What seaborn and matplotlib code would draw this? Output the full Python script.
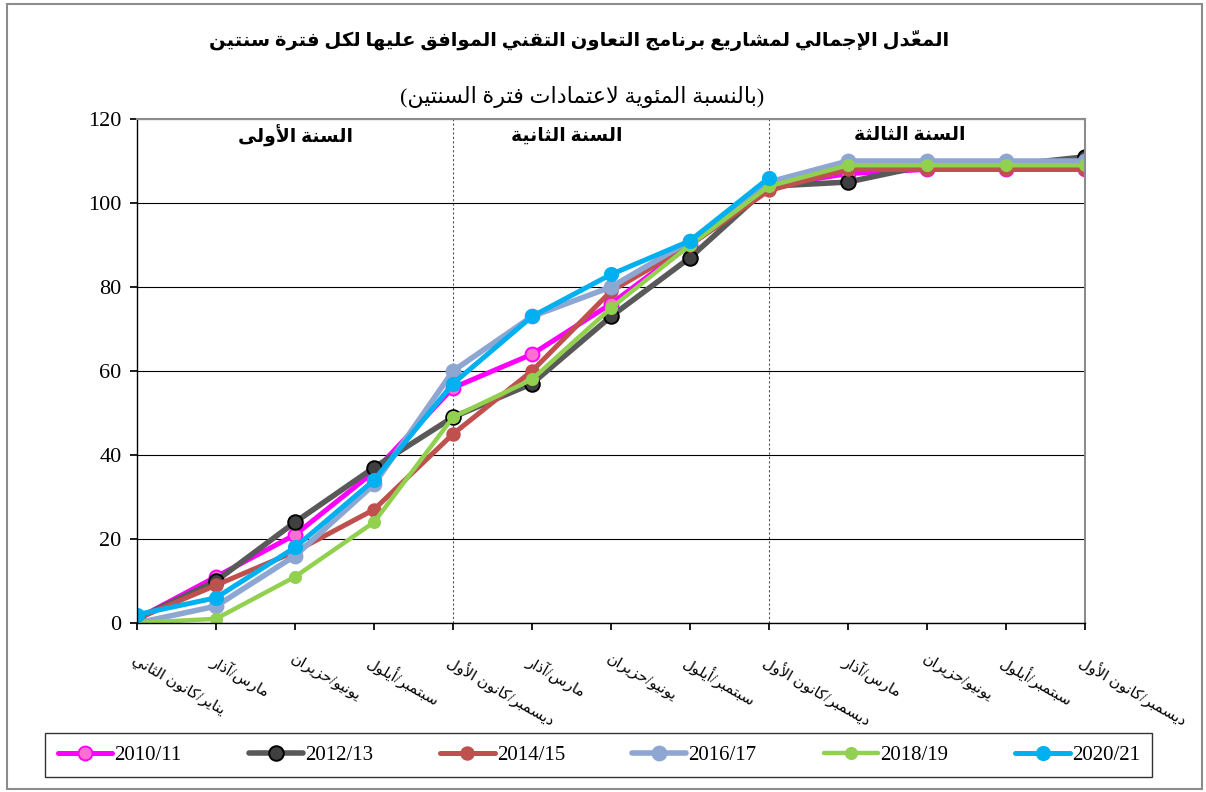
################################# import ###################################

import pandas as pd
import seaborn as sns
import matplotlib.pyplot as plt
from matplotlib.patches import Rectangle

################################# data #####################################

months = ["يناير/كانون الثاني", "مارس/آذار", "يونيو/حزيران", "سبتمبر/أيلول",
          "ديسمبر/كانون الأول", "مارس/آذار", "يونيو/حزيران", "سبتمبر/أيلول",
          "ديسمبر/كانون الأول", "مارس/آذار", "يونيو/حزيران", "سبتمبر/أيلول",
          "ديسمبر/كانون الأول"]
series_names = ["2010/11", "2012/13", "2014/15", "2016/17", "2018/19", "2020/21"]
v_2010_11 = [1, 11, 21, 36, 56, 64, 76, 90, 104, 107, 108, 108, 108]
v_2012_13 = [1, 10, 24, 37, 49, 57, 73, 87, 104, 105, 109, 109, 111]
v_2014_15 = [1, 9, 17, 27, 45, 60, 79, 90, 103, 108, 108, 108, 108]
v_2016_17 = [0, 4, 16, 33, 60, 73, 80, 91, 105, 110, 110, 110, 110]
v_2018_19 = [0, 1, 11, 24, 49, 58, 75, 90, 104, 109, 109, 109, 109]
v_2020_21 = [2, 6, 18, 34, 57, 73, 83, 91, 106, None, None, None, None]
year_labels = ["السنة الأولى", "السنة الثانية", "السنة الثالثة"]
title = "المعدّل الإجمالي لمشاريع برنامج التعاون التقني الموافق عليها لكل فترة سنتين"
subtitle = "(بالنسبة المئوية لاعتمادات فترة السنتين)"

################################# arabic text ##############################

# matplotlib does no shaping / bidi, so pick the contextual forms by hand
AR_LETTERS = "ءآأؤإئابةتثجحخدذرزسشصضطظعغفقكلمنهوىي"
AR_NFORMS = [1, 2, 2, 2, 2, 4, 2, 4, 2, 4, 4, 4, 4, 4, 2, 2, 2, 2,
             4, 4, 4, 4, 4, 4, 4, 4, 4, 4, 4, 4, 4, 4, 4, 2, 2, 4]
FORMS = {}
cp = 0xFE80
for ch, n in zip(AR_LETTERS, AR_NFORMS):
    FORMS[ch] = [chr(cp + k) for k in range(n)]
    cp += n
LAM_ALEF = {"آ": 0xFEF5, "أ": 0xFEF7, "إ": 0xFEF9, "ا": 0xFEFB}
MIRROR = {"(": ")", ")": "("}


def ar(text):
    clusters = []
    for ch in text:
        if 0x064B <= ord(ch) <= 0x0652 and clusters:
            clusters[-1][1] += ch
        else:
            clusters.append([ch, ""])
    out = []
    i = 0
    n = len(clusters)
    while i < n:
        ch, marks = clusters[i]
        prev = clusters[i - 1][0] if i > 0 else ""
        join_prev = ch in FORMS and len(FORMS.get(prev, [])) == 4 and len(FORMS[ch]) > 1
        if ch == "ل" and i + 1 < n and clusters[i + 1][0] in LAM_ALEF:
            out.append(chr(LAM_ALEF[clusters[i + 1][0]] + int(join_prev)) + marks + clusters[i + 1][1])
            i += 2
            continue
        nxt = clusters[i + 1][0] if i + 1 < n else ""
        join_next = ch in FORMS and len(FORMS[ch]) == 4 and nxt in FORMS and len(FORMS[nxt]) > 1
        if ch in FORMS:
            f = FORMS[ch]
            if join_prev and join_next:
                g = f[3]
            elif join_prev:
                g = f[1]
            elif join_next:
                g = f[2]
            else:
                g = f[0]
        else:
            g = MIRROR.get(ch, ch)
        out.append(g + marks)
        i += 1
    return "".join(reversed(out))


################################# plot #####################################

sns.set_theme(style="white")
plt.rcParams['font.family'] = ['Liberation Serif', 'DejaVu Sans']
plt.rcParams.update({'text.color': 'black', 'xtick.color': 'black',
                     'ytick.color': 'black', 'axes.labelcolor': 'black'})

values = [v_2010_11, v_2012_13, v_2014_15, v_2016_17, v_2018_19, v_2020_21]
df = pd.DataFrame({
    'period': [i for v in values for i in range(len(v))],
    'value': [x for v in values for x in v],
    'series': [s for s, v in zip(series_names, values) for _ in v],
}).dropna()

styles = {
    "2010/11": dict(color="#FF00FF", mfc="#FF6FD0", mec="#FF00FF", ms=10, lw=3.6),
    "2012/13": dict(color="#595959", mfc="#404040", mec="#000000", ms=10.5, lw=4),
    "2014/15": dict(color="#C0504D", mfc="#C0504D", mec="#C0504D", ms=9, lw=3.6),
    "2016/17": dict(color="#8EA6D2", mfc="#8EA6D2", mec="#8EA6D2", ms=10, lw=4),
    "2018/19": dict(color="#92D050", mfc="#92D050", mec="#92D050", ms=8, lw=3.2),
    "2020/21": dict(color="#00B0F0", mfc="#00B0F0", mec="#00B0F0", ms=9.5, lw=3.6),
}

fig, ax = plt.subplots(figsize=(12.06, 7.92), dpi=100)
fig.subplots_adjust(left=0.1136, right=0.8997, top=0.8497, bottom=0.2134)

for name in series_names:
    st = styles[name]
    sns.lineplot(data=df[df['series'] == name], x='period', y='value', ax=ax,
                 color=st['color'], linewidth=st['lw'], marker='o', markersize=st['ms'],
                 markerfacecolor=st['mfc'], markeredgecolor=st['mec'], markeredgewidth=1.4,
                 label=name, legend=False)

ax.set_xlim(0, 12)
ax.set_ylim(0, 120)
ax.set_yticks(range(0, 121, 20))
ax.yaxis.grid(True, color='black', linewidth=0.8)
for xv in (4, 8):
    ax.axvline(xv, color='#555555', linewidth=0.8, linestyle=(0, (2, 2)), zorder=0)
ax.set_xticks(range(len(months)))
ax.set_xticklabels([ar(m) for m in months], rotation=-30, ha='left', va='top',
                   rotation_mode='anchor', fontsize=11)
ax.tick_params(axis='x', length=5, pad=16, direction='out', bottom=True, color='black')
ax.tick_params(axis='y', length=5, pad=6, labelsize=16, direction='out', left=True, color='black')
ax.set_xlabel('')
ax.set_ylabel('')
for s in ('left', 'bottom'):
    ax.spines[s].set_color('black')
    ax.spines[s].set_linewidth(1)
for s in ('top', 'right'):
    ax.spines[s].set_color('#8c8c8c')
    ax.spines[s].set_linewidth(1.5)

for xp, lab in zip([2.0, 5.44, 9.78], year_labels):
    ax.text(xp, 116, ar(lab), ha='center', va='center', fontsize=13.5, fontweight='bold')

fig.text(0.48, 0.949, ar(title), ha='center', va='center', fontsize=14, fontweight='bold')
fig.text(0.483, 0.8775, ar(subtitle), ha='center', va='center', fontsize=16)

handles, labels = ax.get_legend_handles_labels()
leg = fig.legend(handles, labels, loc='center', ncol=6, mode='expand',
                 bbox_to_anchor=(0.029, 0.015, 0.935, 0.063), fontsize=15,
                 frameon=True, fancybox=False, handlelength=2.6, handletextpad=0.1,
                 borderpad=0.6)
leg.get_frame().set_edgecolor('black')
leg.get_frame().set_linewidth(1)

fig.patches.append(Rectangle((0.006, 0.004), 0.991, 0.991, transform=fig.transFigure,
                             fill=False, edgecolor='#8c8c8c', linewidth=1.5))

fig.savefig("out.png", dpi=100)
